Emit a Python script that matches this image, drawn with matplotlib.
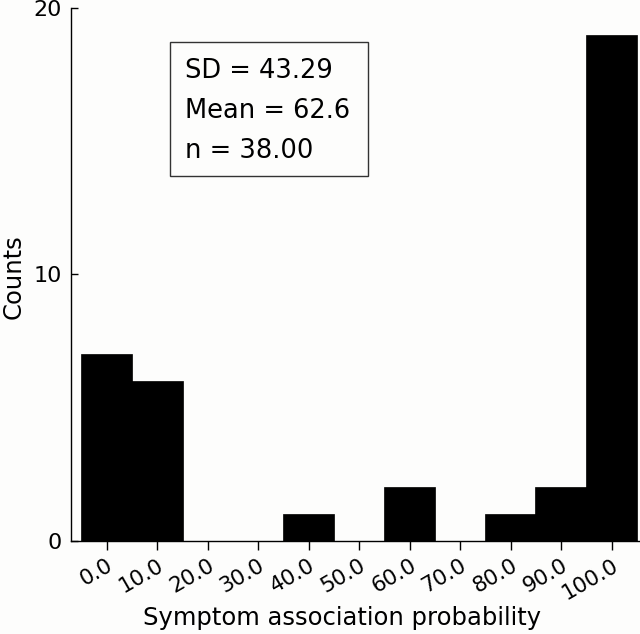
import matplotlib
matplotlib.use("Agg")
import matplotlib.pyplot as plt
import matplotlib.transforms as mtransforms

bin_centers = [0, 10, 20, 30, 40, 50, 60, 70, 80, 90, 100]
counts = [7, 6, 0, 0, 1, 0, 2, 0, 1, 2, 19]
tick_labels = ["0.0", "10.0", "20.0", "30.0", "40.0", "50.0", "60.0", "70.0", "80.0", "90.0", "100.0"]
y_ticks = [0, 10, 20]
stats_lines = ["SD = 43.29", "Mean = 62.6", "n = 38.00"]

plt.rcParams['font.family'] = ['DejaVu Sans']
W, H = 640, 634
fig = plt.figure(figsize=(W / 100, H / 100), dpi=100, facecolor='#fdfdfc')
ax = fig.add_axes([71 / W, 1 - 540.7 / H, (640 - 71) / W, (540.7 - 8) / H])
ax.set_facecolor('#fdfdfc')

ax.bar(bin_centers, counts, width=10.2, color='black', edgecolor='black', linewidth=0.5)

ax.set_xlim(-7.05, 105.6)
ax.set_ylim(0, 20)
ax.spines['top'].set_visible(False)
ax.spines['right'].set_visible(False)
ax.spines['left'].set_linewidth(1.0)
ax.spines['bottom'].set_linewidth(1.0)

ax.set_yticks(y_ticks)
ax.set_yticklabels([str(v) for v in y_ticks], fontsize=16)
ax.tick_params(axis='y', direction='in', length=5, width=1.0, pad=6.5)

ax.set_xticks(bin_centers)
ax.set_xticklabels(tick_labels, fontsize=15.5, rotation=30, ha='right')
ax.tick_params(axis='x', direction='out', length=6.5, width=1.0, pad=4)
offset = mtransforms.ScaledTranslation(10 / 100, 0, fig.dpi_scale_trans)
for lab in ax.get_xticklabels():
    lab.set_transform(lab.get_transform() + offset)

ax.set_xlabel("Symptom association probability", fontsize=17.5)
ax.xaxis.set_label_coords((342 - 71) / 569, (540.7 - 606) / 532.7)
ax.set_ylabel("Counts", fontsize=17.5)
ax.yaxis.set_label_coords((26 - 71) / 569, (540.7 - 277) / 532.7)

# stats box (figure pixel coordinates)
def fx(px):
    return px / W

def fy(py):
    return 1 - py / H

rect = plt.Rectangle((fx(170), fy(176)), fx(368) - fx(170), fy(42) - fy(176),
                     transform=fig.transFigure, fill=False, edgecolor='#333333', linewidth=1.0)
fig.add_artist(rect)
baselines = [78, 118, 158]
for line, b in zip(stats_lines, baselines):
    fig.text(fx(185), fy(b), line, fontsize=18.5, va='baseline', ha='left')

fig.savefig("out.png", dpi=100, facecolor=fig.get_facecolor())
